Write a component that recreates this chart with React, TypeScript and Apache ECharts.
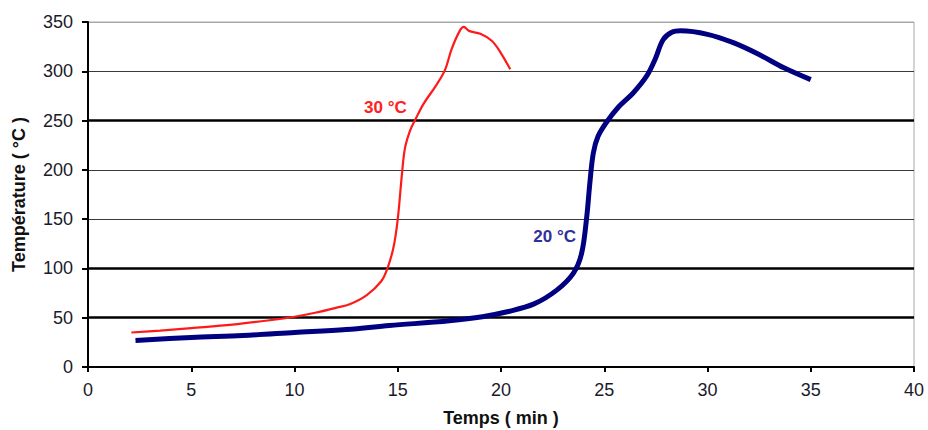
import React, { useEffect, useRef } from "react";
import * as echarts from "echarts";

const xTicks = { min: 0, max: 40, interval: 5 };
const yTicks = { min: 0, max: 350, interval: 50 };

const curve30: [number, number][] = [
  [2.1, 35], [3.5, 37], [5, 39.5], [7, 43], [9, 48], [10, 51], [11, 55], [12, 60],
  [12.7, 64], [13.5, 73], [14.2, 87], [14.5, 100], [14.8, 122], [15.0, 150],
  [15.2, 195], [15.35, 222], [15.6, 240], [15.85, 251], [16.25, 267], [16.9, 287],
  [17.3, 302], [17.6, 322], [18.0, 341], [18.2, 345], [18.45, 341], [19.0, 338],
  [19.55, 331], [19.95, 320], [20.45, 302],
];

const curve20: [number, number][] = [
  [2.3, 27], [5, 30], [7.5, 32], [10, 35], [12.5, 38], [14.6, 42], [17.5, 47],
  [19.1, 51], [20.3, 56], [21.6, 64], [22.7, 78], [23.5, 95], [23.9, 115],
  [24.15, 152], [24.3, 186], [24.47, 217], [24.7, 234], [25.1, 248], [25.7, 264],
  [26.4, 278], [27.05, 295], [27.46, 312], [27.85, 332], [28.27, 339.5], [28.7, 341],
  [30, 337.5], [31.25, 329], [32.5, 317], [33.7, 303.5], [35, 291.5],
];

const label30 = { text: "30 °C", coord: [14.4, 263] };
const label20 = { text: "20 °C", coord: [22.6, 132] };

const thickGridValues = [50, 100, 250];

const FONT = "Liberation Sans, Arial, sans-serif";

export default function App() {
  const ref = useRef<HTMLDivElement>(null);
  useEffect(() => {
    document.body.style.margin = "0";
    const chart = echarts.init(ref.current!, null, { renderer: "svg" });
    chart.setOption({
      animation: false,
      backgroundColor: "#fff",
      grid: {
        left: 88,
        right: 14,
        top: 22,
        bottom: 63,
        outerBoundsMode: "none",
        containLabel: false,
        show: true,
        borderColor: "#a8a8a8",
        borderWidth: 1,
      },
      xAxis: {
        type: "value",
        min: xTicks.min,
        max: xTicks.max,
        interval: xTicks.interval,
        name: "Temps ( min )",
        nameLocation: "middle",
        nameGap: 42,
        nameTextStyle: { fontFamily: FONT, fontSize: 18, fontWeight: "bold", color: "#111" },
        axisLine: { show: true, onZero: false, lineStyle: { color: "#000", width: 2 } },
        axisTick: { show: true, inside: false, length: 5, lineStyle: { color: "#000", width: 2 } },
        axisLabel: { fontFamily: FONT, fontSize: 18, color: "#1a1a2a", margin: 14 },
        splitLine: { show: false },
      },
      yAxis: {
        type: "value",
        min: yTicks.min,
        max: yTicks.max,
        interval: yTicks.interval,
        name: "Température ( °C )",
        nameLocation: "middle",
        nameGap: 60,
        nameTextStyle: { fontFamily: FONT, fontSize: 18, fontWeight: "bold", color: "#111" },
        axisLine: { show: true, lineStyle: { color: "#000", width: 2 } },
        axisTick: { show: true, inside: false, length: 6, lineStyle: { color: "#000", width: 2 } },
        axisLabel: { fontFamily: FONT, fontSize: 18, color: "#1a1a2a", margin: 15 },
        splitLine: {
          show: true,
          lineStyle: {
            color: ["#000", "#000", "#000", "#3a3a3a", "#3a3a3a", "#000", "#3a3a3a", "#a8a8a8"],
            width: 1,
          },
        },
      },
      series: [
        {
          type: "line",
          name: "30 °C",
          data: curve30,
          smooth: 0.35,
          showSymbol: false,
          lineStyle: { color: "#ff1a1a", width: 2.2 },
          z: 3,
          markLine: {
            silent: true,
            symbol: ["none", "none"],
            label: { show: false },
            lineStyle: { color: "#000", width: 2.5, type: "solid" },
            data: thickGridValues.map((v) => ({ yAxis: v })),
            z: 1,
          },
          markPoint: {
            symbol: "circle",
            symbolSize: 0,
            data: [
              {
                coord: label30.coord,
                label: {
                  show: true,
                  formatter: label30.text,
                  fontFamily: FONT,
                  fontSize: 17,
                  fontWeight: "bold",
                  color: "#ff2020",
                  position: "inside",
                },
              },
            ],
          },
        },
        {
          type: "line",
          name: "20 °C",
          data: curve20,
          smooth: 0.35,
          showSymbol: false,
          lineStyle: { color: "#000080", width: 5 },
          z: 4,
          markPoint: {
            symbol: "circle",
            symbolSize: 0,
            data: [
              {
                coord: label20.coord,
                label: {
                  show: true,
                  formatter: label20.text,
                  fontFamily: FONT,
                  fontSize: 17,
                  fontWeight: "bold",
                  color: "#30309a",
                  position: "inside",
                },
              },
            ],
          },
        },
      ],
    });
    return () => chart.dispose();
  }, []);
  return <div ref={ref} style={{ width: 928, height: 430 }} />;
}
